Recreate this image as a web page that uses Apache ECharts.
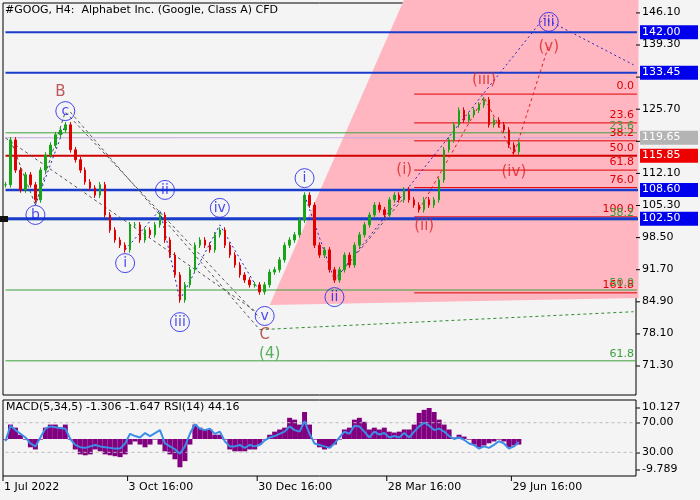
<!DOCTYPE html>
<html><head><meta charset="utf-8">
<script src="https://cdn.jsdelivr.net/npm/echarts@6/dist/echarts.min.js"></script>
<style>html,body{margin:0;padding:0;background:#f4f4f4}#c{width:700px;height:500px}</style>
</head><body><div id="c"></div>
<script>
const closes=[109.7,119.2,112.8,108.6,111.8,109.7,106.5,112.8,116.0,118.1,120.3,121.3,122.4,117.1,115.0,112.8,110.3,109.0,107.5,109.7,103.3,100.1,98.0,96.9,95.9,101.2,101.2,98.0,100.1,99.1,101.2,103.3,98.0,94.8,90.6,85.3,88.5,91.7,96.9,98.0,96.9,95.9,99.1,100.1,96.9,94.8,92.7,90.6,89.5,88.5,88.5,87.0,88.5,91.2,91.7,93.8,96.9,98.0,99.1,102.2,107.5,105.4,96.9,94.8,95.9,91.7,89.5,91.7,94.8,92.7,96.9,99.1,101.2,103.3,105.4,104.4,103.3,106.5,107.5,106.5,108.6,106.5,105.4,104.4,106.5,105.4,106.5,110.7,117.1,119.2,122.4,125.5,123.4,124.5,125.5,126.6,127.7,122.4,123.4,122.4,121.3,118.1,116.7,118.6];
const macd=[-0.2,4.7,3.7,1.4,-0.2,-2.7,-3.4,-0.2,3.7,4.7,4.7,3.7,4.7,-0.2,-3.4,-5.0,-5.3,-5.0,-3.4,-4.0,-5.0,-5.3,-5.6,-5.9,-5.0,-1.8,-0.8,-1.8,-2.7,-1.8,-0.2,-1.8,-4.0,-5.0,-6.6,-9.2,-7.2,-1.8,4.7,3.7,3.1,3.1,1.4,1.4,-0.2,-3.4,-4.0,-4.0,-4.0,-3.4,-3.4,-1.8,-0.2,1.4,2.4,3.1,3.7,6.9,6.3,4.7,8.8,4.7,-0.2,-2.7,-3.4,-2.7,-1.8,-0.2,3.1,3.7,6.3,6.9,5.6,3.1,3.7,3.1,3.7,2.4,2.1,2.4,3.1,3.1,4.7,8.5,9.5,10.1,8.8,6.3,4.7,3.1,0.5,1.4,0.8,-0.2,-1.8,-2.7,-2.1,-1.4,-0.8,-0.2,-0.8,-2.7,-2.1,-1.8];
const rsi=[45,66,60,55,50,42,38,50,62,65,64,63,62,48,40,37,36,38,40,38,37,36,35,35,42,55,52,50,56,52,56,60,42,38,34,28,38,55,68,62,60,62,55,58,45,38,38,40,36,40,38,40,46,50,52,55,58,65,60,58,72,55,42,40,38,36,42,50,58,55,66,65,58,50,58,54,56,50,52,50,56,50,58,65,70,66,60,62,58,52,48,50,47,42,40,35,38,36,40,45,42,35,38,44];
const priceTicks=[146.10,139.30,132.50,125.70,118.90,112.10,105.30,98.50,91.70,84.90,78.10,71.30];
const dateLabels=[[0,'1 Jul 2022'],[25,'3 Oct 16:00'],[50.5,'30 Dec 16:00'],[76.5,'28 Mar 16:00'],[102,'29 Jun 16:00']];
const boxLevels=[[142.00,'#0000ee'],[133.45,'#0000ee'],[119.65,'#b4b4b4'],[115.85,'#ee0000'],[108.60,'#0000ee'],[102.50,'#0000ee']];
const fibLevels=[[128.9,'0.0'],[122.8,'23.6'],[119.0,'38.2'],[115.9,'50.0'],[112.8,'61.8'],[109.1,'76.0'],[102.9,'100.0'],[86.8,'161.8']];
const greenLevels=[[120.7,'23.6'],[102.3,'38.2'],[87.4,'50.0'],[72.4,'61.8']];
const pinkZone=[[52.9,84.2],[79.9,149],[126.6,149],[126.6,85.7]];
const grayDash=[[[0.9,119.2],[5.5,105.4],[11.7,125.1],[51.3,81.5]],[[0.3,119.6],[50,83]],[[12.9,125.1],[51.3,79.0]],[[65.7,89.5],[80,107]]];
const blueDot=[[[5.5,105.4],[11.7,122.4]],[[23.9,95.9],[31.3,104.4],[34.9,85.3],[42.5,101.2],[50.9,87.0]],[[59.7,107.5],[65.7,89.5],[107.9,145.0],[126.1,135.1]]];
const greenDash=[[51.3,79.0],[126.1,82.8]];
const redDash=[[82.9,104.4],[95.5,128.3],[101.5,116.0],[108.5,139.3]];
const circLabels=[[11.5,125.3,'c'],[5.5,103.3,'b'],[31.9,108.6,'ii'],[24.3,93.1,'i'],[42.5,104.8,'iv'],[34.9,80.6,'iii'],[51.9,81.9,'v'],[59.7,111.1,'i'],[65.7,85.9,'ii'],[108.5,144.2,'iii']];
const plainLabels=[[11.3,129.4,'B','#b03030'],[52.3,77.9,'C','#b03030'],[52.5,73.9,'(4)','#2e9e2e'],[79.5,112.8,'(i)','#e02020'],[83.9,101.0,'(ii)','#e02020'],[95.7,131.9,'(iii)','#e02020'],[101.7,112.4,'(iv)','#e02020'],[108.7,138.9,'(v)','#e02020']];

const N=127, cats=Array.from({length:N},(_,i)=>i);
const YMIN=65.16,YMAX=148.2;
const ohlc=closes.map((c,i)=>{const o=i?closes[i-1]:c;return [o,c,Math.min(o,c)-0.6,Math.max(o,c)+0.6];});
const series=[];
series.push({type:'custom',xAxisIndex:0,yAxisIndex:0,silent:true,z:1,data:[0],renderItem:(p,api)=>({type:'polygon',shape:{points:pinkZone.map(q=>api.coord(q))},style:{fill:'#ffb6c1'}})});
function hline(v,color,w,from,type){series.push({type:'line',xAxisIndex:0,yAxisIndex:0,data:[[from||0,v],[126.6,v]],symbol:'none',silent:true,z:3,lineStyle:{color,width:w,type:type||'solid'}});}
function path(pts,color,type,w){series.push({type:'line',xAxisIndex:0,yAxisIndex:0,data:pts,symbol:'none',silent:true,z:4,lineStyle:{color,width:w||1,type}});}
hline(119.65,'#c8a8e0',1);
greenLevels.forEach(g=>hline(g[0],'#3aa03a',1));
fibLevels.forEach(f=>hline(f[0],'#e00000',1,81.5));
hline(115.85,'#d00000',2);
hline(142.00,'#1a3ccc',2);hline(133.45,'#1a3ccc',2);hline(108.60,'#1a3ccc',2.5);hline(102.50,'#1a3ccc',3);
grayDash.forEach(p=>path(p,'#555',[3,3]));
blueDot.forEach(p=>path(p,'#2222cc',[2,3]));
path(greenDash,'#2e8b2e',[3,3]);path(redDash,'#e02020',[3,3]);
series.push({type:'candlestick',xAxisIndex:0,yAxisIndex:0,data:ohlc,barWidth:2,z:5,itemStyle:{color:'#18a418',color0:'#e00000',borderColor:'#18a418',borderColor0:'#e00000',borderWidth:1}});
series.push({type:'scatter',xAxisIndex:0,yAxisIndex:0,z:6,symbol:'circle',symbolSize:19,data:circLabels.map(l=>({value:[l[0],l[1]],label:{formatter:l[2]}})),itemStyle:{color:'rgba(255,255,255,0)',borderColor:'#1a1aee',borderWidth:1},label:{show:true,position:'inside',color:'#1a1aee',fontSize:14,fontFamily:'DejaVu Sans'}});
series.push({type:'scatter',xAxisIndex:0,yAxisIndex:0,z:6,symbolSize:1,data:plainLabels.map(l=>({value:[l[0],l[1]],label:{formatter:l[2],color:l[3]}})),itemStyle:{color:'rgba(0,0,0,0)'},label:{show:true,position:'inside',fontSize:15,fontFamily:'DejaVu Sans'}});
series.push({type:'bar',xAxisIndex:1,yAxisIndex:1,data:macd,barWidth:'100%',itemStyle:{color:'#800080'},silent:true});
series.push({type:'line',xAxisIndex:1,yAxisIndex:2,data:rsi,symbol:'none',lineStyle:{color:'#3a8ee8',width:2},silent:true,z:5});
series.push({type:'line',xAxisIndex:1,yAxisIndex:2,data:[[0,70],[126.6,70]],symbol:'none',lineStyle:{color:'#bbb',width:1,type:[3,3]},silent:true});
series.push({type:'line',xAxisIndex:1,yAxisIndex:2,data:[[0,30],[126.6,30]],symbol:'none',lineStyle:{color:'#bbb',width:1,type:[3,3]},silent:true});

const chart=echarts.init(document.getElementById('c'),null,{renderer:'canvas'});
const axBase={type:'category',data:cats,boundaryGap:true,axisLine:{show:false},axisTick:{show:false},axisLabel:{show:false},splitLine:{show:false}};
chart.setOption({animation:false,backgroundColor:'#f4f4f4',
grid:[{left:3,top:3,width:633,height:392,show:true,borderColor:'#000',borderWidth:1,backgroundColor:'#f4f4f4'},{left:3,top:400,width:633,height:76,show:true,borderColor:'#000',borderWidth:1,backgroundColor:'#f4f4f4'}],
xAxis:[Object.assign({gridIndex:0},axBase),Object.assign({gridIndex:1},axBase)],
yAxis:[{gridIndex:0,min:YMIN,max:YMAX,show:false,scale:true,splitLine:{show:false}},{gridIndex:1,min:-12.04,max:12.7,show:false,splitLine:{show:false}},{gridIndex:1,min:-2,max:100.7,show:false,splitLine:{show:false}}],
series});
const F='DejaVu Sans';const g=[];
const px=(x,y)=>chart.convertToPixel({xAxisIndex:0,yAxisIndex:0},[x,y]);
const T=(x,y,text,fill,align)=>g.push({type:'text',z:100,x,y,style:{text,font:'11px '+F,fill,textAlign:align||'left',align:align||'left'}});
T(5,5,'#GOOG, H4:  Alphabet Inc. (Google, Class A) CFD','#000');
priceTicks.forEach(t=>{const y=px(0,t)[1];g.push({type:'line',z:100,shape:{x1:636,y1:y,x2:640,y2:y},style:{stroke:'#000'}});T(642,y-6,t.toFixed(2),'#000');});
boxLevels.forEach(b=>{const y=px(0,b[0])[1];g.push({type:'rect',z:101,shape:{x:640,y:y-7,width:58,height:14},style:{fill:b[1]}});g.push({type:'text',z:102,x:642,y:y-6,style:{text:b[0].toFixed(2),font:'11px '+F,fill:'#fff'}});});
fibLevels.forEach(f=>{const y=px(0,f[0])[1];T(634,y-13,f[1],'#e00000','right');});
greenLevels.forEach(f=>{const y=px(0,f[0])[1];T(634,y-12,f[1],'#3aa03a','right');});
[[10.127,408],[70,423],[30,453],[-9.789,470]].forEach((t,i)=>{const y=t[1];g.push({type:'line',z:100,shape:{x1:636,y1:y,x2:640,y2:y},style:{stroke:'#000'}});T(642,y-6,i==0?'10.127':i==3?'-9.789':t[0].toFixed(2),'#000');});
T(6,402,'MACD(5,34,5) -1.306 -1.647 RSI(14) 44.16','#000');
dateLabels.forEach(d=>{const x=chart.convertToPixel({xAxisIndex:1},d[0])-2.5;g.push({type:'line',z:100,shape:{x1:x,y1:476,x2:x,y2:481},style:{stroke:'#000'}});T(x+1,482,d[1],'#000');});
g.push({type:'rect',z:100,shape:{x:0,y:216,width:8,height:6},style:{fill:'#111'}});
chart.setOption({graphic:g});
</script></body></html>
